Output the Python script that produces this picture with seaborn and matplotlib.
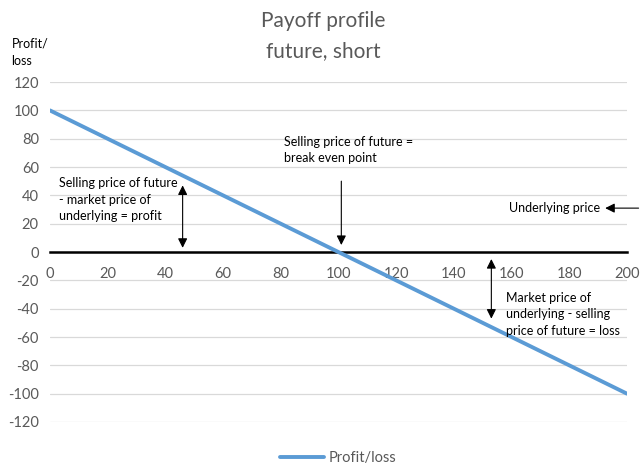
import matplotlib.pyplot as plt
import seaborn as sns
import pandas as pd

# data
underlying = [0, 20, 40, 60, 80, 100, 120, 140, 160, 180, 200]
profit_loss = [100, 80, 60, 40, 20, 0, -20, -40, -60, -80, -100]
y_ticks = [-120, -100, -80, -60, -40, -20, 0, 20, 40, 60, 80, 100, 120]

df = pd.DataFrame({"underlying": underlying, "profit_loss": profit_loss})

sns.set_style("white")
plt.rcParams["font.family"] = ["Lato", "DejaVu Sans"]
plt.rcParams["axes.unicode_minus"] = False

LINE_BLUE = "#5B9BD5"
GREY_TXT = "#595959"

fig = plt.figure(figsize=(6.4, 4.65), dpi=100)
ax = fig.add_axes([0.078, 0.0925, 0.9016, 0.731])

sns.lineplot(data=df, x="underlying", y="profit_loss", ax=ax,
             color=LINE_BLUE, linewidth=2.8, label="Profit/loss", zorder=3)

ax.set_xlim(0, 200)
ax.set_ylim(-120, 120)
ax.set_yticks(y_ticks)
ax.set_xticks(underlying)
ax.set_xlabel("")
ax.set_ylabel("")

# gridlines
ax.yaxis.grid(True, color="#D9D9D9", linewidth=0.9)
ax.set_axisbelow(True)

# x axis sits on zero
for s in ["left", "right", "top"]:
    ax.spines[s].set_visible(False)
ax.spines["bottom"].set_position(("data", 0))
ax.spines["bottom"].set_color("black")
ax.spines["bottom"].set_linewidth(1.8)
ax.spines["bottom"].set_zorder(2)

ax.tick_params(axis="x", length=0, labelsize=10.5, labelcolor=GREY_TXT, pad=11)
ax.tick_params(axis="y", length=0, labelsize=10.5, labelcolor=GREY_TXT, pad=8)
ax.xaxis.remove_overlapping_locs = False
ax.set_xticks(underlying[::2], minor=True)
ax.tick_params(axis="x", which="minor", direction="in", length=4, width=1.5, color="black")

# titles
fig.text(0.505, 0.955, "Payoff profile", ha="center", va="center", fontsize=15, color=GREY_TXT)
fig.text(0.505, 0.89, "future, short", ha="center", va="center", fontsize=15, color=GREY_TXT)
fig.text(0.018, 0.888, "Profit/\nloss", ha="left", va="center", fontsize=9, color="black",
         linespacing=1.5)

# annotations
txt_kw = dict(fontsize=9, color="black", linespacing=1.45)
dbl = dict(arrowstyle="<|-|>", color="black", lw=0.8, mutation_scale=14)
one = dict(arrowstyle="-|>", color="black", lw=0.8, mutation_scale=14)

ax.text(3, 37, "Selling price of future\n- market price of\nunderlying = profit",
        ha="left", va="center", **txt_kw)
ax.annotate("", xy=(46, 49), xytext=(46, 1), arrowprops=dbl)

ax.text(81, 72, "Selling price of future =\nbreak even point",
        ha="left", va="center", **txt_kw)
ax.annotate("", xy=(101, 3), xytext=(101, 52), arrowprops=one)

ax.text(159, 31, "Underlying price", ha="left", va="center", **txt_kw)
ax.annotate("", xy=(191.5, 31), xytext=(205, 31), arrowprops=one,
            annotation_clip=False)

ax.text(158, -44, "Market price of\nunderlying - selling\nprice of future = loss",
        ha="left", va="center", **txt_kw)
ax.annotate("", xy=(153, -49), xytext=(153, -3), arrowprops=dbl)

leg = ax.legend(loc="center", bbox_to_anchor=(0.5, -0.105), frameon=False,
                fontsize=10.5, handlelength=3.0, handletextpad=0.3)
for t in leg.get_texts():
    t.set_color(GREY_TXT)

fig.savefig("out.png", dpi=100)
